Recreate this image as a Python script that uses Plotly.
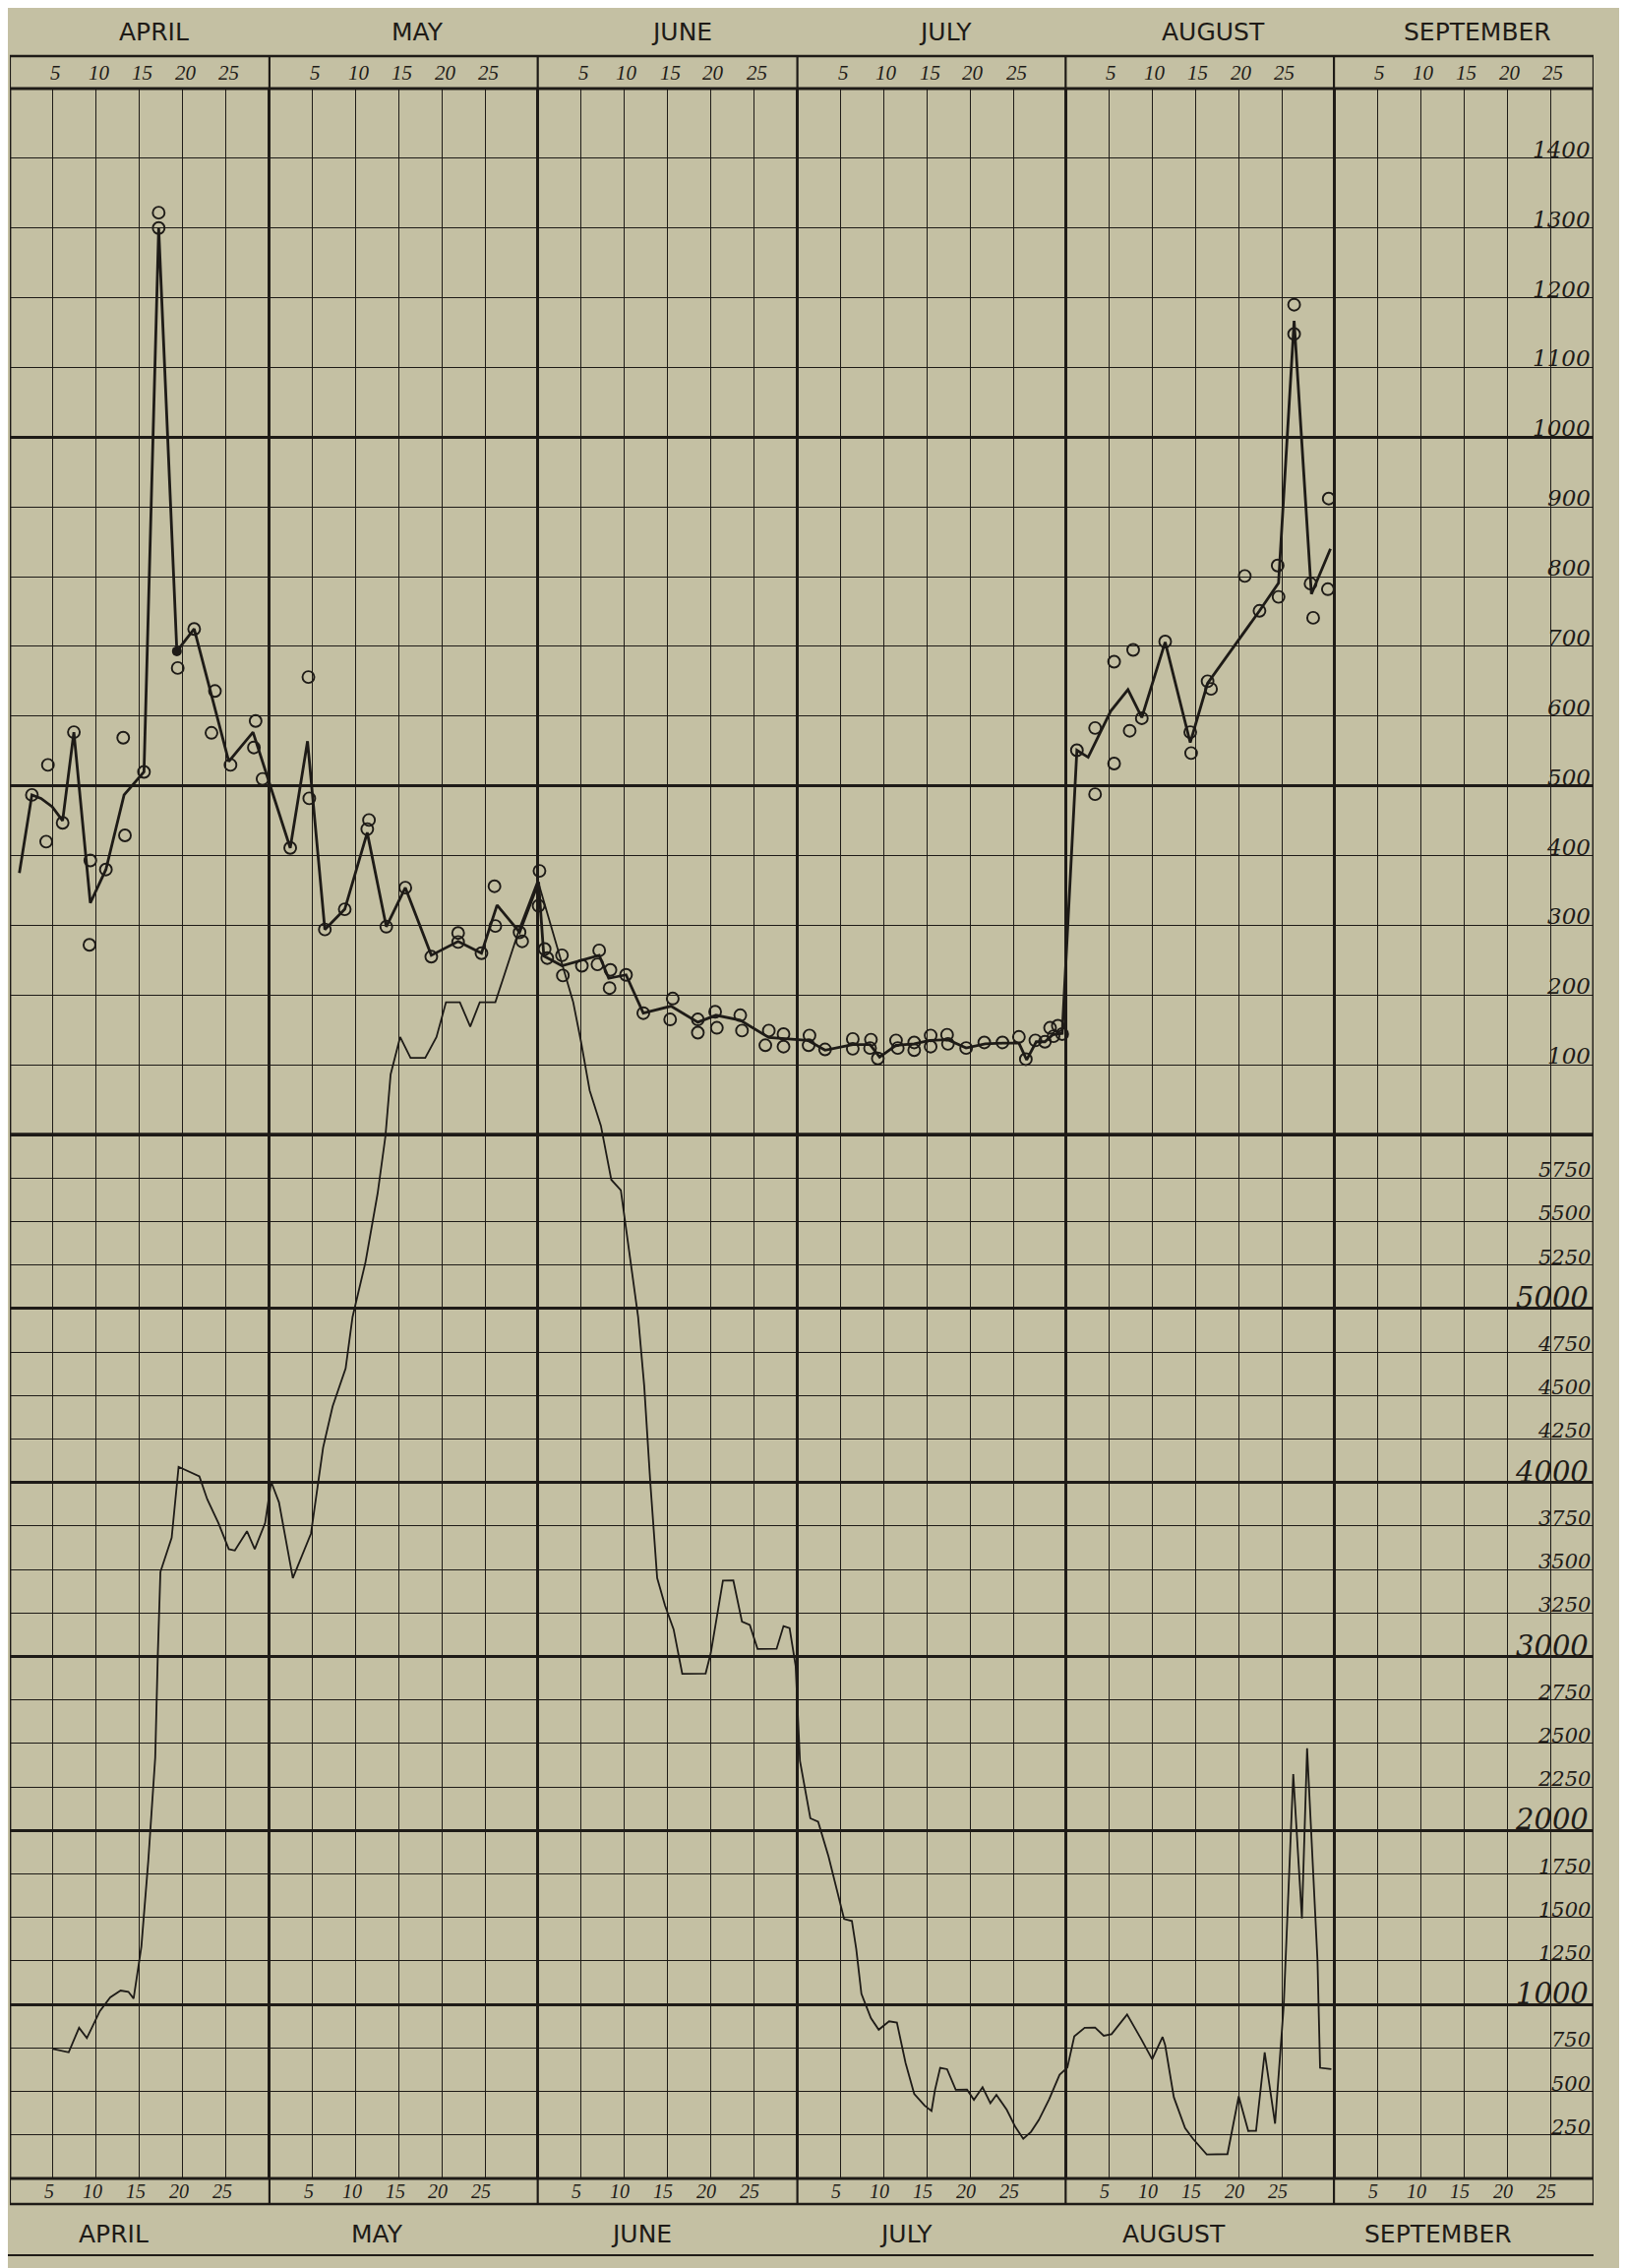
import plotly.graph_objects as go

# ---------------- data ----------------
MONTHS = ["APRIL", "MAY", "JUNE", "JULY", "AUGUST", "SEPTEMBER"]
MONTH_START = [0, 30, 61, 91, 122, 153]      # day offset of each month boundary
SEASON_END = 183
DAY_TICKS = [5, 10, 15, 20, 25]

TOP_TICKS = [100, 200, 300, 400, 500, 600, 700, 800, 900, 1000, 1100, 1200, 1300, 1400]
TOP_MAJOR = [0, 500, 1000, 1500]
FLOW_TICKS = [250, 500, 750, 1000, 1250, 1500, 1750, 2000, 2250, 2500, 2750, 3000,
              3250, 3500, 3750, 4000, 4250, 4500, 4750, 5000, 5250, 5500, 5750]
FLOW_MAJOR = [0, 1000, 2000, 3000, 4000, 5000, 6000]

# upper curve (heavy line)
top_day = [1.1, 2.55, 3.6, 4.9, 6.1, 7.4, 9.3, 11.1, 13.2, 15.5, 17.2, 19.3, 21.3, 25.3,
           28.1, 32.4, 34.4, 36.4, 38.7, 41.3, 43.5, 45.7, 48.7, 51.8, 54.5, 56.3, 58.9,
           61.1, 61.7, 63.8, 68.1, 69.2, 71.2, 73.2, 76.4, 79.5, 81.6, 84.4, 87.7, 92.2,
           94.2, 97.4, 99.4, 100.5, 102.4, 104.5, 106.3, 108.4, 110.5, 112.7, 114.7,
           116.6, 117.5, 118.6, 119.6, 120.5, 121.6, 123.3, 124.6, 127.2, 129.2, 130.8,
           133.5, 136.4, 138.4, 144.4, 146.6, 148.4, 150.4, 152.6]
top_value = [375, 487, 482, 470, 450, 577, 332, 380, 487, 520, 1300, 693, 725, 535,
             577, 411, 564, 294, 323, 433, 298, 354, 257, 277, 260, 329, 290,
             362, 256, 242, 257, 224, 229, 174, 184, 161, 171, 164, 139, 135,
             121, 129, 129, 111, 128, 130, 135, 136, 124, 130, 131,
             131, 107, 133, 133, 143, 145, 551, 541, 607, 638, 598,
             706, 562, 647, 751, 791, 1167, 775, 840]

# individual observations (open circles)
sample_day = [2.55, 4.4, 4.2, 6.1, 7.4, 9.3, 9.2, 11.1, 13.1, 13.3, 15.5, 17.2, 17.2, 19.4,
              21.3, 23.7, 23.3, 25.5, 28.4, 28.2, 29.2, 34.5, 34.6, 32.4, 36.4, 38.7, 41.5,
              41.3, 43.5, 45.7, 48.7, 51.8, 51.8, 54.5, 56.0, 56.1, 58.9, 59.2, 61.2, 61.1,
              61.8, 62.1, 63.8, 63.9, 66.1, 68.1, 67.9, 69.4, 69.3, 71.2, 73.2, 76.6, 76.3,
              79.5, 79.5, 81.5, 81.7, 84.4, 84.6, 87.7, 87.3, 89.4, 89.4, 92.4, 92.3, 94.2,
              97.4, 97.4, 99.5, 99.4, 100.3, 102.4, 102.6, 104.5, 104.5, 106.4, 106.4, 108.3,
              108.4, 110.5, 112.6, 114.7, 116.6, 117.4, 118.5, 119.6, 120.2, 121.1, 120.6,
              121.6, 123.3, 125.4, 125.4, 127.6, 127.6, 129.4, 129.8, 130.8, 133.5, 136.4,
              136.5, 138.4, 138.8, 142.7, 144.4, 146.6, 146.5, 148.4, 148.4, 150.3, 150.6,
              152.3, 152.4]
sample_value = [487, 530, 420, 447, 577, 393, 272, 380, 569, 429, 520, 1300, 1322, 669,
                725, 636, 576, 530, 593, 555, 510, 656, 482, 411, 294, 323, 451,
                438, 298, 354, 255, 289, 276, 260, 356, 299, 290, 277, 378, 328,
                266, 253, 257, 228, 242, 264, 244, 236, 210, 229, 174, 195, 165,
                165, 146, 176, 153, 171, 149, 149, 128, 144, 126, 142, 128, 122,
                137, 123, 136, 124, 109, 135, 124, 132, 121, 142, 126, 143,
                130, 124, 132, 132, 140, 108, 135, 133, 153, 156, 141,
                144, 551, 488, 583, 532, 678, 579, 695, 597, 707, 577,
                547, 650, 639, 801, 751, 771, 816, 1148, 1190, 790, 741,
                782, 912]
dot_day = [19.3]
dot_value = [693]

# lower curve (thin line, lower scale, runs up into the upper field)
flow_day = [5.0, 6.8, 8.0, 8.9, 10.4, 11.6, 12.8, 13.7, 14.3, 15.2, 16.0, 16.8, 17.1, 17.4,
            18.7, 19.5, 21.9, 22.8, 24.1, 25.3, 26.0, 27.4, 28.3, 29.5, 30.2, 31.1, 32.7,
            34.8, 36.2, 37.3, 38.8, 39.6, 41.1, 42.5, 43.4, 44.0, 45.1, 46.3, 48.0, 49.3,
            50.4, 52.0, 53.2, 54.3, 56.1, 58.0, 59.0, 61.0, 63.5, 65.1, 66.0, 67.0, 68.3,
            69.5, 70.6, 71.6, 72.6, 73.3, 74.0, 74.8, 75.7, 76.7, 77.7, 80.4, 81.0, 82.4,
            83.6, 84.6, 85.5, 86.4, 88.6, 89.4, 90.1, 90.8, 91.3, 92.5, 93.4, 94.6, 95.6,
            96.4, 97.3, 97.8, 98.4, 99.5, 100.4, 101.6, 102.5, 103.5, 104.5, 105.7, 106.5,
            106.9, 107.5, 108.3, 109.3, 110.6, 111.4, 112.4, 113.3, 114.0, 115.2, 116.2,
            117.1, 118.0, 118.9, 120.1, 121.3, 122.2, 123.0, 124.2, 125.4, 126.4, 127.3,
            129.1, 130.7, 132.0, 133.2, 133.5, 134.5, 135.8, 136.7, 138.3, 140.7, 141.0,
            142.0, 143.1, 144.0, 145.0, 146.2, 147.2, 147.7, 148.3, 149.3, 149.9, 151.1,
            151.4, 152.7]
flow_value = [745, 725, 866, 807, 962, 1041, 1080, 1073, 1034, 1333, 1827, 2419, 3012, 3486,
              3683, 4090, 4035, 3905, 3767, 3617, 3609, 3720, 3617, 3767, 4004, 3886, 3450,
              3707, 4201, 4438, 4655, 4951, 5267, 5662, 5990, 6345, 6560, 6440, 6440, 6560,
              6760, 6760, 6620, 6760, 6760, 7050, 7200, 7460, 7030, 6760, 6533, 6253, 6050,
              5740, 5680, 5306, 4951, 4557, 4004, 3451, 3294, 3156, 2900, 2902, 3021, 3436,
              3437, 3200, 3181, 3043, 3044, 3175, 3163, 2946, 2400, 2070, 2050, 1850, 1650,
              1491, 1480, 1320, 1061, 922, 855, 903, 896, 665, 486, 419, 388,
              508, 636, 628, 510, 511, 452, 524, 433, 481, 394, 295,
              228, 268, 336, 456, 596, 637, 817, 866, 867, 820, 829,
              942, 804, 685, 813, 766, 467, 289, 229, 138, 140, 212,
              472, 273, 274, 725, 315, 994, 1573, 2324, 1494, 2472, 1254,
              636, 628]

# ---------------- geometry / style ----------------
PAGE_W, PAGE_H = 1654, 2305
OFF = 8                      # default page margin of the html body
W, H = PAGE_W - OFF, PAGE_H - OFF
# positions below are page pixels
X_LEFT, X_RIGHT = 10, 1620
Y_TOP, Y_MID, Y_BOT = 90, 1153, 2214
TOP_MAX, FLOW_SPLIT = 1500, 6000

PAPER = "#c4c0a3"
INK = "#1e1b17"


def py(Y):
    return (Y_BOT - Y) / (Y_BOT - Y_TOP)


MID = py(Y_MID)
flow_range = [0, FLOW_SPLIT / MID]
top_range = [TOP_MAX - TOP_MAX / (1 - MID), TOP_MAX]

minor_days = [m + d for m in MONTH_START for d in DAY_TICKS]
boundaries = MONTH_START + [SEASON_END]

fig = go.Figure()

fig.add_trace(go.Scatter(x=flow_day, y=flow_value, mode="lines", yaxis="y",
                         line=dict(color=INK, width=1.8), hoverinfo="skip"))
fig.add_trace(go.Scatter(x=top_day, y=top_value, mode="lines", yaxis="y2",
                         line=dict(color=INK, width=2.8), hoverinfo="skip"))
fig.add_trace(go.Scatter(x=sample_day, y=sample_value, mode="markers", yaxis="y2",
                         marker=dict(symbol="circle-open", size=12, color=INK,
                                     line=dict(width=1.9, color=INK)), hoverinfo="skip"))
fig.add_trace(go.Scatter(x=dot_day, y=dot_value, mode="markers", yaxis="y2",
                         marker=dict(symbol="circle", size=10, color=INK), hoverinfo="skip"))

fig.update_layout(
    width=W, height=H, autosize=False,
    margin=dict(l=X_LEFT - OFF, r=PAGE_W - X_RIGHT, t=Y_TOP - OFF, b=PAGE_H - Y_BOT, pad=0),
    paper_bgcolor=PAPER, plot_bgcolor="rgba(0,0,0,0)",
    showlegend=False,
    xaxis=dict(range=[0, SEASON_END], domain=[0, 1], anchor="y",
               tickmode="array", tickvals=boundaries, showticklabels=False, ticks="",
               showgrid=True, gridcolor=INK, gridwidth=2.6, zeroline=False, showline=False,
               minor=dict(tickmode="array", tickvals=minor_days, showgrid=True,
                          gridcolor=INK, gridwidth=1.4, ticks="")),
    yaxis=dict(range=flow_range, domain=[0, 1], anchor="x",
               tickmode="array", tickvals=FLOW_MAJOR, showticklabels=False, ticks="",
               showgrid=True, gridcolor=INK, gridwidth=2.6, zeroline=False, showline=False,
               minor=dict(tickmode="array", tickvals=FLOW_TICKS, showgrid=True,
                          gridcolor=INK, gridwidth=1.4, ticks="")),
    yaxis2=dict(range=top_range, overlaying="y", anchor="x", side="right",
                tickmode="array", tickvals=TOP_MAJOR, showticklabels=False, ticks="",
                showgrid=True, gridcolor=INK, gridwidth=2.6, zeroline=False, showline=False,
                minor=dict(tickmode="array", tickvals=TOP_TICKS, showgrid=True,
                           gridcolor=INK, gridwidth=1.4, ticks="")),
)

shapes = []
# frame
shapes.append(dict(type="rect", xref="x", yref="paper", x0=0, x1=SEASON_END, y0=0, y1=1,
                   line=dict(color=INK, width=2.8)))
# heavy division between the two fields
shapes.append(dict(type="line", xref="x", yref="y2", x0=0, x1=SEASON_END, y0=0, y1=0,
                   line=dict(color=INK, width=3.4)))
# header bands
TOP_BAND = py(57)
BOT_BAND = py(2240)
RULE = py(2292)
for yb in (TOP_BAND, BOT_BAND):
    shapes.append(dict(type="line", xref="x", yref="paper", x0=0, x1=SEASON_END, y0=yb, y1=yb,
                       line=dict(color=INK, width=2.4)))
for b in boundaries:
    shapes.append(dict(type="line", xref="x", yref="paper", x0=b, x1=b, y0=1, y1=TOP_BAND,
                       line=dict(color=INK, width=2.2)))
    shapes.append(dict(type="line", xref="x", yref="paper", x0=b, x1=b, y0=0, y1=BOT_BAND,
                       line=dict(color=INK, width=2.2)))
shapes.append(dict(type="line", xref="paper", yref="paper", x0=-0.01, x1=1.0, y0=RULE, y1=RULE,
                   line=dict(color=INK, width=2.2)))
fig.update_layout(shapes=shapes)

ann = []
SERIF = "DejaVu Serif"
SERIF2 = "Liberation Serif"
SANS = "DejaVu Sans"
for i, (m, name) in enumerate(zip(MONTH_START, MONTHS)):
    ndays = boundaries[i + 1] - m
    ann.append(dict(x=m + ndays / 2 + 1.6, y=py(33), xref="x", yref="paper", text=name,
                    yanchor="middle", showarrow=False,
                    font=dict(family=SANS, size=25, color=INK)))
    ann.append(dict(x=m + ndays / 2 - 3.0, y=py(2270), xref="x", yref="paper", text=name,
                    yanchor="middle", showarrow=False,
                    font=dict(family=SANS, size=25, color=INK)))
    for d in DAY_TICKS:
        ann.append(dict(x=m + d + 0.3, y=py(74), xref="x", yref="paper", text=f"<i>{d}</i>",
                        yanchor="middle", showarrow=False,
                        font=dict(family=SERIF2, size=21, color=INK)))
        ann.append(dict(x=m + d - 0.5, y=py(2227), xref="x", yref="paper", text=f"<i>{d}</i>",
                        yanchor="middle", showarrow=False,
                        font=dict(family=SERIF2, size=20, color=INK)))
for v in TOP_TICKS:
    ann.append(dict(x=SEASON_END, y=v, xref="x", yref="y2", text=f"<i>{v}</i>",
                    xanchor="right", yanchor="bottom", xshift=-2, yshift=-5, borderpad=0,
                    showarrow=False, font=dict(family=SERIF, size=23, color=INK)))
for v in FLOW_TICKS:
    big = v % 1000 == 0
    ann.append(dict(x=SEASON_END, y=v, xref="x", yref="y", text=f"<i>{v}</i>",
                    xanchor="right", yanchor="bottom", xshift=-4 if big else -2,
                    yshift=-7 if big else -5, borderpad=0, showarrow=False,
                    font=dict(family=SERIF, size=29 if big else 21, color=INK)))
fig.update_layout(annotations=ann)

fig.write_html("out.html")
